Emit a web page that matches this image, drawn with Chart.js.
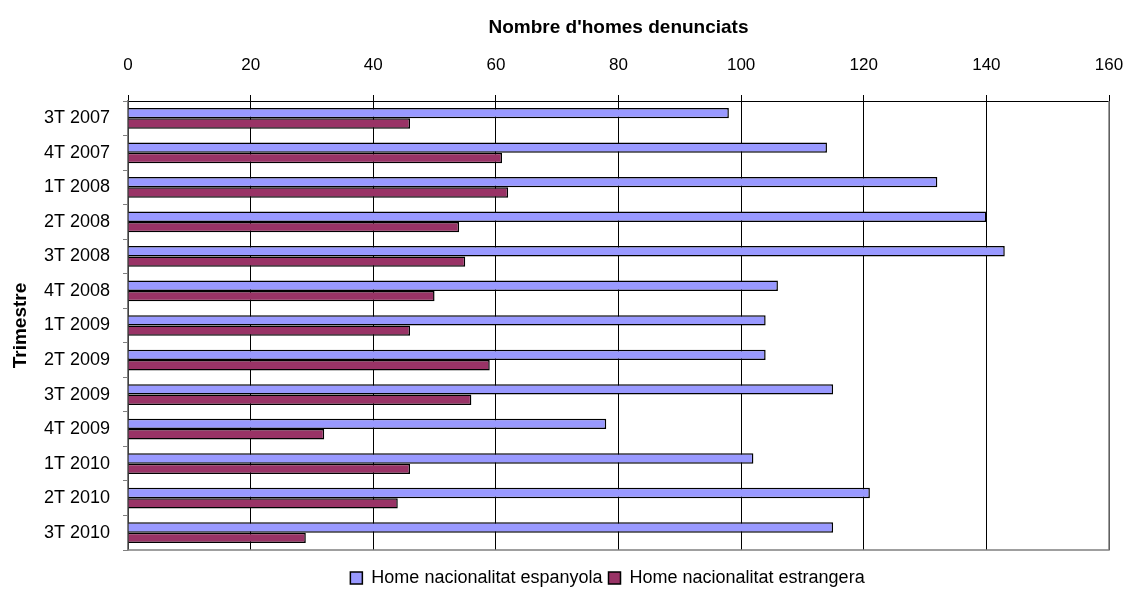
<!DOCTYPE html>
<html>
<head>
<meta charset="utf-8">
<script src="https://cdn.jsdelivr.net/npm/chart.js@4/dist/chart.umd.min.js"></script>
<style>
  html, body { margin: 0; padding: 0; background: #fff; }
  #wrap { width: 1129px; height: 596px; }
</style>
</head>
<body>
<div id="wrap"><canvas id="chart"></canvas></div>
<script>
const trimestres = ['3T 2007', '4T 2007', '1T 2008', '2T 2008', '3T 2008', '4T 2008', '1T 2009',
  '2T 2009', '3T 2009', '4T 2009', '1T 2010', '2T 2010', '3T 2010'];
const espanyola = [98, 114, 132, 140, 143, 106, 104, 104, 115, 78, 102, 121, 115];
const estrangera = [46, 61, 62, 54, 55, 50, 46, 59, 56, 32, 46, 44, 29];
const xTicks = [0, 20, 40, 60, 80, 100, 120, 140, 160];

const FONT = '"Liberation Sans", Arial, sans-serif';
Chart.defaults.font.family = FONT;
Chart.defaults.color = '#000';

// gray frame on the right and bottom of the plot area
const frame = {
  id: 'frame',
  afterDatasetsDraw(chart) {
    const { ctx, chartArea: a } = chart;
    ctx.save();
    ctx.strokeStyle = '#808080';
    ctx.lineWidth = 1.5;
    ctx.beginPath();
    ctx.moveTo(a.left, a.bottom);
    ctx.lineTo(a.right, a.bottom);
    ctx.lineTo(a.right, a.top);
    ctx.stroke();
    ctx.restore();
  }
};

// legend in the original sits a bit right of centre and lower
const legendShift = {
  id: 'legendShift',
  afterLayout(chart) {
    const lg = chart.legend;
    lg.left += 53; lg.right += 53;
    lg.top += 13; lg.bottom += 13;
  }
};

new Chart(document.getElementById('chart'), {
  type: 'bar',
  data: {
    labels: trimestres,
    datasets: [{
      label: 'Home nacionalitat espanyola',
      data: espanyola,
      backgroundColor: '#9999ff',
      borderColor: '#000',
      borderWidth: 1.5
    }, {
      label: 'Home nacionalitat estrangera',
      data: estrangera,
      backgroundColor: '#993366',
      borderColor: '#000',
      borderWidth: 1.5
    }]
  },
  options: {
    indexAxis: 'y',
    responsive: true,
    maintainAspectRatio: false,
    animation: false,
    layout: { padding: { top: 0, right: 20, bottom: 12, left: 0 } },
    datasets: { bar: { categoryPercentage: 0.6, barPercentage: 1.0 } },
    scales: {
      x: {
        position: 'top',
        min: 0,
        max: 160,
        afterBuildTicks(scale) { scale.ticks = xTicks.map(v => ({ value: v })); },
        afterFit(scale) {
          scale.height = 101;
          scale.paddingLeft = 0;
          scale.paddingRight = 0;
        },
        grid: { color: '#000', lineWidth: 1, tickLength: 6 },
        border: { color: '#000', width: 1 },
        ticks: { font: { size: 17 }, padding: 19, maxRotation: 0 },
        title: {
          display: true,
          text: "Nombre d'homes denunciats",
          font: { size: 19, weight: 'bold' },
          padding: { top: 16, bottom: 0 }
        }
      },
      y: {
        afterFit(scale) { scale.width = 128; },
        grid: { offset: true, drawOnChartArea: false, color: '#808080', tickLength: 5 },
        border: { color: '#808080', width: 1.5 },
        ticks: { font: { size: 18 }, padding: 13 },
        title: {
          display: true,
          text: 'Trimestre',
          font: { size: 19, weight: 'bold' },
          padding: { top: 9, bottom: 0 }
        }
      }
    },
    plugins: {
      legend: {
        position: 'bottom',
        labels: { font: { size: 18 }, boxWidth: 12, boxHeight: 12, padding: 6, color: '#000' }
      },
      tooltip: { enabled: false }
    }
  },
  plugins: [frame, legendShift]
});
</script>
</body>
</html>
